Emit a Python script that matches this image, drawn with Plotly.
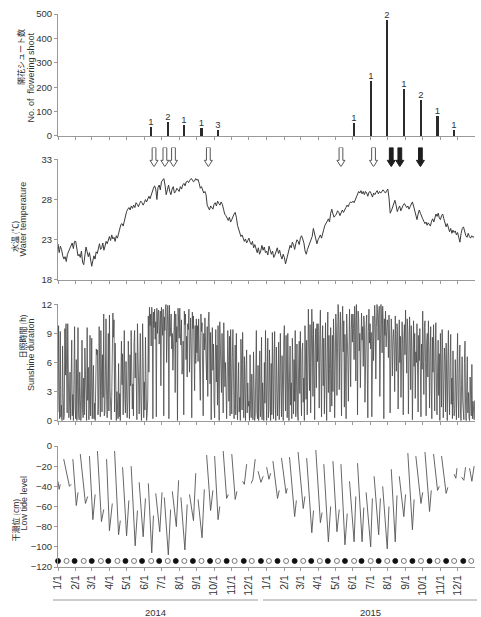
import plotly.graph_objects as go
import pandas as pd

# ---------------- DATA ----------------
bloom_dates = ["2014-06-13", "2014-07-12", "2014-08-10", "2014-09-09", "2014-10-08",
               "2015-06-03", "2015-07-02", "2015-07-31", "2015-08-29", "2015-09-28",
               "2015-10-27", "2015-11-25"]
bloom_counts = [37, 57, 45, 31, 26, 55, 226, 476, 193, 149, 82, 25]
bloom_labels = ["1", "2", "1", "1", "3", "1", "1", "2", "1", "2", "1", "1"]

open_arrow_dates = ["2014-06-18", "2014-07-07", "2014-07-22", "2014-09-21", "2015-05-11", "2015-07-07"]
filled_arrow_dates = ["2015-08-07", "2015-08-22", "2015-09-27"]

water_temp_2014 = [
    [22.5, 21.4, 22.2, 21.8, 21.0, 20.6, 20.9, 20.3, 21.2, 21.6, 22.0, 22.3, 22.6, 21.9, 22.8],
    [22.8, 21.5, 21.0, 21.2, 20.8, 21.6, 20.2, 19.9, 21.0, 22.1, 21.5, 20.9, 21.4, 20.2],
    [19.7, 20.4, 21.0, 20.6, 21.5, 21.3, 22.1, 22.5, 21.8, 22.0, 22.6, 21.7, 22.2, 22.8, 22.5, 23.0],
    [23.4, 22.9, 23.6, 23.1, 23.3, 22.8, 23.5, 23.2, 23.9, 24.6, 24.9, 25.0, 24.7, 25.3, 26.2],
    [26.5, 26.8, 27.0, 26.7, 27.2, 26.9, 27.3, 27.0, 27.6, 27.4, 27.1, 27.5, 27.8, 27.6, 27.3],
    [27.6, 28.0, 27.7, 28.2, 28.4, 28.1, 28.6, 29.0, 29.4, 29.7, 29.3, 28.0, 29.5, 29.8, 29.2],
    [30.2, 30.5, 30.6, 29.8, 28.6, 29.2, 29.8, 29.0, 28.6, 29.3, 29.6, 28.8, 29.0, 29.4, 29.2],
    [29.0, 29.6, 29.3, 29.8, 30.0, 29.7, 30.2, 30.3, 30.1, 30.4, 30.6, 30.5, 30.2, 30.3, 30.6],
    [30.4, 30.5, 30.0, 29.4, 29.6, 29.2, 28.8, 29.0, 28.6, 27.3, 26.9, 26.7, 27.2, 27.0, 26.8],
    [27.4, 27.6, 27.2, 27.8, 27.5, 27.3, 27.7, 27.4, 26.8, 26.2, 26.0, 25.6, 25.4, 25.8, 25.2],
    [25.5, 26.0, 26.2, 26.4, 25.8, 24.8, 24.2, 23.8, 23.4, 23.6, 23.0, 22.8, 23.1, 22.6, 22.9],
    [23.2, 22.7, 22.4, 22.8, 22.0, 22.4, 21.8, 21.4, 22.0, 21.2, 21.6, 22.3, 21.7, 22.1, 21.4],
]
water_temp_2015 = [
    [21.6, 21.1, 22.2, 21.7, 21.2, 21.6, 20.8, 21.1, 21.5, 22.0, 21.3, 21.7, 21.0, 20.6, 21.2],
    [20.8, 20.0, 20.6, 21.1, 21.5, 22.3, 22.0, 22.7, 22.4, 21.8, 22.5, 23.0, 22.8, 22.4],
    [23.2, 23.5, 23.1, 22.6, 21.6, 21.2, 21.8, 22.2, 22.6, 23.0, 23.4, 24.4, 23.6, 22.8, 22.5],
    [23.0, 23.4, 23.6, 23.2, 24.0, 24.3, 24.8, 25.0, 25.3, 25.6, 25.2, 26.3, 26.8, 26.2, 25.8],
    [26.0, 26.2, 26.6, 26.4, 26.0, 26.5, 26.7, 26.4, 26.8, 27.0, 27.3, 27.1, 27.5, 27.7, 27.6],
    [27.8, 27.6, 28.0, 28.3, 28.6, 29.0, 28.8, 29.1, 28.7, 29.0, 28.6, 29.0, 28.8, 28.4, 28.9],
    [29.0, 28.7, 28.3, 28.8, 28.6, 28.9, 29.1, 28.7, 29.0, 28.8, 29.0, 29.2, 29.0, 28.8, 29.1],
    [29.3, 28.2, 26.3, 26.6, 27.1, 27.6, 27.9, 27.3, 26.5, 26.9, 27.2, 26.6, 27.0, 27.3, 27.5],
    [27.3, 27.0, 27.2, 26.8, 27.1, 27.4, 27.7, 27.2, 26.6, 25.8, 25.5, 26.2, 26.7, 26.3, 25.8],
    [25.6, 25.3, 25.0, 25.2, 24.8, 25.1, 24.9, 24.7, 25.3, 25.6, 25.2, 25.8, 26.2, 25.9, 26.3, 25.7],
    [25.5, 26.0, 26.2, 25.6, 25.2, 24.6, 25.0, 24.3, 24.0, 24.4, 23.8, 24.2, 23.9, 24.1, 23.6],
    [23.9, 23.3, 22.7, 23.8, 24.4, 24.6, 24.0, 23.5, 23.3, 23.8, 23.4, 23.2, 23.5, 23.3, 23.4],
]

sunshine_2014 = [
    [0.9, 9.8, 3.1, 0.2, 9.2, 0.4, 1.6, 0.0, 7.7, 2.9, 0.1, 0.6, 9.5, 4.7, 10.0, 6.3, 0.8, 10.0, 1.2, 0.3, 1.8, 5.0, 0.1, 4.2, 8.3, 0.5, 2.7, 0.0, 3.8, 9.7, 1.4],
    [0.2, 6.3, 0.0, 3.5, 9.6, 0.8, 0.1, 5.0, 0.4, 0.0, 2.2, 8.3, 1.0, 0.3, 4.4, 0.6, 7.5, 3.2, 0.9, 0.0, 9.6, 2.1, 5.5, 0.1, 1.7, 8.8, 0.5, 3.0],
    [8.5, 0.2, 3.5, 5.7, 0.2, 1.8, 0.0, 4.6, 7.4, 6.8, 7.3, 0.6, 2.0, 9.7, 3.1, 0.4, 9.3, 6.0, 0.9, 6.8, 2.4, 11.0, 0.5, 0.8, 5.2, 10.5, 2.6, 0.3, 4.0, 9.0, 1.0],
    [10.9, 3.3, 0.7, 0.1, 2.5, 7.0, 11.1, 8.6, 10.4, 0.9, 8.0, 4.5, 0.0, 3.0, 1.2, 0.2, 5.9, 0.4, 2.8, 0.0, 4.4, 8.2, 3.7, 6.9, 0.6, 5.1, 9.3, 2.2, 0.8, 6.1],
    [3.0, 0.3, 1.9, 8.2, 5.4, 0.2, 6.8, 3.6, 9.3, 5.3, 1.2, 3.8, 0.5, 7.9, 9.3, 4.4, 7.0, 3.9, 0.1, 10.0, 6.2, 3.4, 0.7, 4.8, 9.0, 2.1, 0.0, 3.3, 10.0, 6.6, 0.3],
    [4.0, 1.1, 8.6, 3.2, 0.0, 0.7, 2.3, 10.8, 5.0, 11.7, 9.8, 11.0, 7.7, 11.7, 10.3, 0.2, 11.2, 9.6, 11.5, 8.4, 10.2, 0.4, 11.6, 9.0, 10.9, 11.4, 7.9, 9.5, 11.3, 3.6],
    [11.7, 10.1, 8.8, 11.5, 0.5, 10.7, 9.3, 11.8, 12.0, 6.0, 9.8, 11.9, 10.4, 0.2, 11.9, 8.7, 9.6, 11.0, 7.4, 9.0, 5.2, 7.5, 10.6, 11.3, 2.9, 11.0, 8.1, 9.7, 0.0, 11.6, 10.2],
    [8.5, 11.6, 9.1, 7.8, 10.4, 4.8, 5.5, 8.2, 0.6, 11.3, 9.9, 11.0, 6.3, 8.7, 4.5, 10.0, 9.4, 11.5, 5.0, 8.1, 10.6, 7.2, 0.3, 11.2, 9.5, 10.8, 7.7, 3.1, 9.8, 5.9, 10.5],
    [7.0, 9.8, 6.1, 10.5, 8.4, 5.6, 2.1, 11.0, 9.2, 10.1, 6.8, 0.5, 9.0, 7.3, 10.6, 8.0, 6.5, 4.2, 9.7, 2.5, 10.2, 11.2, 8.6, 3.8, 9.1, 0.1, 6.9, 9.6, 5.2, 7.9],
    [2.0, 0.3, 6.1, 9.4, 4.0, 7.8, 1.6, 9.8, 3.3, 0.0, 10.2, 8.1, 6.7, 2.9, 9.0, 5.4, 0.8, 10.1, 7.0, 3.5, 6.0, 1.0, 0.2, 4.3, 9.3, 6.2, 2.0, 8.7, 0.5, 9.4, 3.8],
    [0.7, 6.5, 9.4, 5.1, 0.2, 1.8, 7.8, 0.6, 9.0, 3.3, 0.1, 3.0, 6.0, 0.9, 2.4, 0.0, 8.4, 5.8, 1.1, 9.1, 4.0, 0.3, 6.6, 2.2, 0.0, 5.5, 7.3, 0.8, 3.9, 1.5],
    [2.0, 0.0, 6.8, 1.2, 0.3, 4.8, 2.0, 0.1, 7.1, 1.5, 0.0, 0.6, 3.4, 9.3, 0.9, 0.2, 5.7, 0.0, 2.6, 7.2, 0.4, 1.3, 8.6, 0.1, 3.9, 0.8, 0.0, 6.0, 1.8, 9.3, 0.2],
]
sunshine_2015 = [
    [0.0, 4.2, 8.5, 0.3, 1.1, 7.3, 2.8, 0.0, 5.9, 0.6, 9.1, 3.7, 0.2, 6.4, 9.2, 1.8, 0.0, 7.6, 4.3, 0.5, 2.9, 8.1, 0.1, 5.0, 9.0, 3.3, 0.4, 6.7, 1.2, 0.0, 8.4],
    [9.8, 4.5, 1.0, 8.8, 6.2, 0.3, 9.0, 2.4, 0.0, 4.5, 7.7, 1.6, 3.9, 0.2, 8.5, 5.2, 0.7, 6.3, 2.0, 9.3, 0.4, 3.6, 7.9, 1.1, 0.0, 5.6, 8.2, 2.8],
    [9.2, 3.0, 0.5, 7.1, 8.0, 1.9, 4.4, 0.0, 9.8, 6.6, 2.2, 8.3, 0.6, 5.0, 11.5, 7.4, 3.1, 9.9, 0.8, 6.0, 11.5, 8.9, 2.5, 10.2, 4.7, 0.1, 7.8, 9.5, 3.4, 10.0, 6.1],
    [10.0, 6.0, 1.3, 8.9, 11.4, 5.5, 0.4, 7.2, 9.8, 3.6, 8.5, 0.7, 6.3, 10.1, 4.2, 0.0, 7.0, 11.2, 2.9, 8.8, 5.4, 0.9, 9.6, 6.8, 1.5, 8.8, 3.0, 10.5, 7.7, 0.3],
    [4.8, 11.0, 9.3, 2.6, 7.5, 12.0, 10.4, 3.2, 8.6, 11.2, 6.0, 0.5, 9.7, 11.8, 7.1, 10.3, 1.4, 8.9, 5.0, 0.2, 11.0, 9.2, 6.4, 2.0, 10.6, 11.5, 7.8, 3.5, 9.4, 11.0, 8.1],
    [11.0, 9.5, 6.3, 11.8, 10.2, 4.1, 12.0, 9.8, 0.6, 11.3, 10.5, 7.2, 9.0, 3.4, 10.0, 11.1, 8.3, 9.7, 5.6, 10.8, 9.9, 1.9, 8.5, 9.7, 10.9, 6.8, 0.3, 9.2, 11.5, 8.0],
    [10.0, 7.4, 9.1, 0.4, 9.5, 10.8, 6.2, 8.7, 11.9, 10.1, 4.3, 9.6, 12.0, 11.2, 8.3, 10.7, 11.8, 2.5, 9.4, 12.0, 10.5, 7.0, 11.8, 9.9, 0.2, 10.5, 8.8, 11.3, 7.6, 9.2, 10.4],
    [9.8, 6.5, 10.9, 8.5, 0.8, 7.3, 10.5, 9.0, 4.6, 8.2, 9.4, 7.7, 3.0, 10.8, 8.8, 5.1, 10.0, 9.3, 1.2, 7.9, 10.4, 6.0, 8.7, 2.4, 9.6, 10.2, 7.5, 0.6, 8.3, 9.9, 6.8],
    [11.4, 8.0, 4.9, 10.5, 9.1, 0.7, 6.6, 10.7, 8.4, 3.2, 9.8, 7.4, 0.1, 8.5, 10.3, 5.6, 9.0, 2.3, 7.1, 6.0, 10.0, 4.4, 0.9, 8.8, 6.2, 9.5, 3.7, 0.4, 7.9, 5.3],
    [11.3, 8.4, 2.7, 9.6, 10.3, 6.0, 0.5, 8.1, 9.0, 4.5, 10.3, 7.2, 1.3, 6.8, 9.7, 3.4, 0.2, 8.6, 5.0, 9.9, 6.5, 1.0, 7.4, 10.1, 4.2, 0.6, 5.0, 8.3, 2.6, 6.9, 0.0],
    [9.0, 5.7, 1.4, 9.4, 7.0, 0.3, 3.8, 7.5, 6.1, 0.9, 8.0, 2.5, 0.0, 6.4, 9.3, 3.1, 0.6, 5.8, 8.9, 1.7, 4.4, 0.2, 7.2, 2.0, 0.5, 1.0, 6.3, 3.6, 0.1, 4.9],
    [9.0, 2.4, 0.3, 5.6, 7.8, 1.1, 0.0, 3.7, 6.6, 2.0, 0.4, 0.1, 5.9, 8.2, 1.5, 0.0, 3.3, 6.6, 0.8, 2.9, 0.3, 0.0, 4.5, 1.2, 0.5, 5.8, 0.2, 2.0, 0.6, 0.1, 2.1],
]

# low-tide level: segments separated by None
tide_dates = [
    "2014-01-01", "2014-01-03", "2014-01-05", None,
    "2014-01-11", "2014-01-19", "2014-01-21", "2014-01-24", None,
    "2014-01-27", "2014-02-02", "2014-02-05", None,
    "2014-02-09", "2014-02-18", "2014-02-22", None,
    "2014-02-25", "2014-03-03", "2014-03-07", None,
    "2014-03-11", "2014-03-18", "2014-03-22", None,
    "2014-03-27", "2014-04-01", "2014-04-06", None,
    "2014-04-10", "2014-04-17", "2014-04-20", None,
    "2014-04-24", "2014-05-01", "2014-05-05", None,
    "2014-05-09", "2014-05-16", "2014-05-20", None,
    "2014-05-23", "2014-05-30", "2014-06-03", None,
    "2014-06-08", "2014-06-14", "2014-06-17", None,
    "2014-06-21", "2014-06-28", "2014-07-02", None,
    "2014-07-06", "2014-07-13", "2014-07-17", None,
    "2014-07-20", "2014-07-27", "2014-07-31", None,
    "2014-08-04", "2014-08-11", "2014-08-15", None,
    "2014-08-19", "2014-08-26", "2014-08-30", None,
    "2014-09-03", "2014-09-10", "2014-09-14", None,
    "2014-09-18", "2014-09-25", "2014-09-29", None,
    "2014-10-02", "2014-10-08", "2014-10-11", None,
    "2014-10-17", "2014-10-23", "2014-10-26", None,
    "2014-11-01", "2014-11-07", "2014-11-10", None,
    "2014-11-20", "2014-11-23", "2014-11-27", None,
    "2014-12-05", "2014-12-08", "2014-12-12", None,
    "2014-12-17", "2014-12-22", "2014-12-26", None,
    "2015-01-01", "2015-01-05", "2015-01-08", None,
    "2015-01-12", "2015-01-20", "2015-01-23", None,
    "2015-01-27", "2015-02-04", "2015-02-06", None,
    "2015-02-10", "2015-02-19", "2015-02-22", None,
    "2015-02-25", "2015-03-06", "2015-03-09", None,
    "2015-03-12", "2015-03-21", "2015-03-24", None,
    "2015-03-28", "2015-04-05", "2015-04-08", None,
    "2015-04-11", "2015-04-19", "2015-04-23", None,
    "2015-04-27", "2015-05-04", "2015-05-08", None,
    "2015-05-11", "2015-05-18", "2015-05-22", None,
    "2015-05-26", "2015-06-03", "2015-06-06", None,
    "2015-06-09", "2015-06-17", "2015-06-20", None,
    "2015-06-24", "2015-07-02", "2015-07-05", None,
    "2015-07-08", "2015-07-16", "2015-07-19", None,
    "2015-07-23", "2015-07-31", "2015-08-03", None,
    "2015-08-07", "2015-08-14", "2015-08-17", None,
    "2015-08-21", "2015-08-29", "2015-09-01", None,
    "2015-09-05", "2015-09-13", "2015-09-16", None,
    "2015-09-19", "2015-09-28", "2015-10-01", None,
    "2015-10-05", "2015-10-13", "2015-10-16", None,
    "2015-10-20", "2015-10-27", "2015-10-30", None,
    "2015-11-03", "2015-11-11", "2015-11-14", None,
    "2015-11-25", "2015-11-28", "2015-11-30", None,
    "2015-12-08", "2015-12-12", "2015-12-15", None,
    "2015-12-22", "2015-12-26", "2015-12-30",
]
tide_levels = [
    -35, -43, -38, None,
    -13, -35, -40, -38, None,
    -13, -59, -46, None,
    -8, -57, -50, None,
    -10, -73, -48, None,
    -5, -75, -63, None,
    -13, -84, -57, None,
    -5, -88, -74, None,
    -21, -89, -54, None,
    -20, -99, -64, None,
    -36, -90, -52, None,
    -37, -106, -69, None,
    -47, -85, -46, None,
    -51, -108, -63, None,
    -45, -80, -34, None,
    -51, -103, -58, None,
    -48, -74, -27, None,
    -53, -91, -43, None,
    -9, -64, -44, None,
    -10, -73, -60, None,
    -5, -52, -48, None,
    -8, -53, -45, None,
    -35, -38, -18, None,
    -37, -33, -13, None,
    -25, -36, -30, None,
    -21, -33, -27, None,
    -15, -52, -44, None,
    -12, -47, -42, None,
    -11, -70, -54, None,
    -6, -62, -50, None,
    -12, -86, -64, None,
    -4, -76, -66, None,
    -18, -95, -60, None,
    -15, -85, -63, None,
    -18, -98, -67, None,
    -35, -95, -50, None,
    -17, -95, -61, None,
    -46, -100, -52, None,
    -30, -88, -52, None,
    -40, -102, -60, None,
    -23, -95, -49, None,
    -30, -70, -48, None,
    -7, -83, -53, None,
    -10, -57, -46, None,
    -6, -65, -44, None,
    -8, -44, -40, None,
    -10, -47, -41, None,
    -28, -32, -22, None,
    -31, -34, -21, None,
    -22, -35, -20,
]

new_moon_dates = ["2014-01-01", "2014-01-30", "2014-03-01", "2014-03-30", "2014-04-29", "2014-05-28",
                  "2014-06-27", "2014-07-26", "2014-08-25", "2014-09-24", "2014-10-23", "2014-11-22",
                  "2014-12-22", "2015-01-20", "2015-02-19", "2015-03-20", "2015-04-18", "2015-05-18",
                  "2015-06-16", "2015-07-16", "2015-08-14", "2015-09-13", "2015-10-13", "2015-11-11",
                  "2015-12-11"]
full_moon_dates = ["2014-01-16", "2014-02-15", "2014-03-17", "2014-04-15", "2014-05-14", "2014-06-13",
                   "2014-07-12", "2014-08-10", "2014-09-09", "2014-10-08", "2014-11-06", "2014-12-06",
                   "2015-01-05", "2015-02-04", "2015-03-06", "2015-04-04", "2015-05-04", "2015-06-03",
                   "2015-07-02", "2015-07-31", "2015-08-29", "2015-09-28", "2015-10-27", "2015-11-25",
                   "2015-12-25"]
moon_marker_level = -114

years = ["2014", "2015"]

# ---------------- HELPERS ----------------
def month_series(year, monthly_lists):
    xs, ys = [], []
    for m, vals in enumerate(monthly_lists, start=1):
        start = pd.Timestamp(year=year, month=m, day=1)
        nd = start.days_in_month
        n = len(vals)
        for i, v in enumerate(vals):
            xs.append(start + pd.Timedelta(days=i * nd / n))
            ys.append(v)
    return xs, ys


tx1, ty1 = month_series(2014, water_temp_2014)
tx2, ty2 = month_series(2015, water_temp_2015)
sx1, sy1 = month_series(2014, sunshine_2014)
sx2, sy2 = month_series(2015, sunshine_2015)

tide_x, last = [], None
for d in tide_dates:
    if d is None:
        tide_x.append(last)
    else:
        last = pd.Timestamp(d)
        tide_x.append(last)


def arrow_path(dates):
    xs, ys = [], []
    for d in dates:
        c = pd.Timestamp(d)
        s = pd.Timedelta(days=3.3)
        h = pd.Timedelta(days=7.0)
        pts = [(c - s, 1), (c + s, 1), (c + s, 0.33), (c + h, 0.33), (c, 0),
               (c - h, 0.33), (c - s, 0.33), (c - s, 1)]
        for px, py in pts:
            xs.append(px)
            ys.append(py)
        xs.append(None)
        ys.append(None)
    return xs, ys


LINE = "#3a3a3a"
AX = "#9a9a9a"
TXT = "#333333"
FONT = "Liberation Sans, Arial, sans-serif"
JFONT = "Noto Sans CJK JP"

fig = go.Figure()

# panel 1: bars
fig.add_trace(go.Bar(x=pd.to_datetime(bloom_dates), y=bloom_counts, text=bloom_labels,
                     textposition="outside", constraintext="none", cliponaxis=False,
                     textfont=dict(size=9.5, color=TXT, family=FONT),
                     outsidetextfont=dict(size=9.5, color=TXT, family=FONT),
                     width=4 * 86400000, marker=dict(color="#2b2b2b", line=dict(width=0)),
                     xaxis="x", yaxis="y", showlegend=False))

# panel 2: water temperature
fig.add_trace(go.Scatter(x=tx1 + tx2, y=ty1 + ty2, mode="lines",
                         line=dict(color=LINE, width=1), xaxis="x2", yaxis="y2", showlegend=False))

# arrows
ax_o, ay_o = arrow_path(open_arrow_dates)
fig.add_trace(go.Scatter(x=ax_o, y=ay_o, mode="lines", fill="toself", fillcolor="white",
                         line=dict(color="#555555", width=1), xaxis="x2", yaxis="y5", showlegend=False))
ax_f, ay_f = arrow_path(filled_arrow_dates)
fig.add_trace(go.Scatter(x=ax_f, y=ay_f, mode="lines", fill="toself", fillcolor="#1e1e1e",
                         line=dict(color="#1e1e1e", width=1), xaxis="x2", yaxis="y5", showlegend=False))

# panel 3: sunshine
fig.add_trace(go.Scatter(x=sx1 + sx2, y=sy1 + sy2, mode="lines",
                         line=dict(color="#4a4a4a", width=0.8), xaxis="x3", yaxis="y3", showlegend=False))

# panel 4: tide
fig.add_trace(go.Scatter(x=tide_x, y=tide_levels, mode="lines", connectgaps=False,
                         line=dict(color="#555555", width=0.9), xaxis="x4", yaxis="y4", showlegend=False))
fig.add_trace(go.Scatter(x=pd.to_datetime(new_moon_dates), y=[moon_marker_level] * len(new_moon_dates),
                         mode="markers", marker=dict(symbol="circle", size=5, color="#111111",
                                                     line=dict(color="#111111", width=0.8)),
                         cliponaxis=False, xaxis="x4", yaxis="y4", showlegend=False))
fig.add_trace(go.Scatter(x=pd.to_datetime(full_moon_dates), y=[moon_marker_level] * len(full_moon_dates),
                         mode="markers", marker=dict(symbol="circle-open", size=5, color="#555555",
                                                     line=dict(width=0.8)),
                         cliponaxis=False, xaxis="x4", yaxis="y4", showlegend=False))

# ---------------- LAYOUT ----------------
xcommon = dict(type="date", range=["2014-01-01", "2015-12-31 12:00"], dtick="M1", tick0="2014-01-01",
               ticks="outside", ticklen=3, tickcolor=AX, tickwidth=1, showline=True, linecolor=AX,
               linewidth=1, showgrid=False, zeroline=False, fixedrange=True)
ycommon = dict(ticks="outside", ticklen=3, tickcolor=AX, showline=True, linecolor=AX, linewidth=1,
               showgrid=False, zeroline=False, tickfont=dict(size=9.5, color=TXT, family=FONT))

D1 = [0.7794, 1.0]
D2 = [0.5190, 0.7373]
D3 = [0.2646, 0.4750]
D4 = [0.0, 0.2188]
D5 = [0.7239, 0.7586]

fig.update_layout(
    width=481, height=617,
    margin=dict(l=58, r=6, t=14, b=50),
    paper_bgcolor="white", plot_bgcolor="white",
    font=dict(family=FONT, color=TXT),
    bargap=0,
    xaxis=dict(xcommon, anchor="y", showticklabels=False),
    xaxis2=dict(xcommon, anchor="y2", matches="x", showticklabels=False),
    xaxis3=dict(xcommon, anchor="y3", matches="x", showticklabels=False),
    xaxis4=dict(xcommon, anchor="y4", matches="x", showticklabels=True, tickformat="%-m/%-d",
                tickangle=-90, tickfont=dict(size=10.5, color=TXT, family=FONT)),
    yaxis=dict(ycommon, domain=D1, anchor="x", range=[0, 500], tickvals=[0, 100, 200, 300, 400, 500]),
    yaxis2=dict(ycommon, domain=D2, anchor="x2", range=[18, 33], tickvals=[18, 23, 28, 33]),
    yaxis3=dict(ycommon, domain=D3, anchor="x3", range=[0, 12], tickvals=[0, 3, 6, 9, 12]),
    yaxis4=dict(ycommon, domain=D4, anchor="x4", range=[-120, 0],
                tickvals=[0, -20, -40, -60, -80, -100, -120]),
    yaxis5=dict(domain=D5, anchor="x2", range=[0, 1], visible=False, fixedrange=True),
)

PW = 481 - 58 - 6
PH = 617 - 14 - 50


def px_to_paper_x(px):
    return (px - 58) / PW


def py_to_paper_y(py):
    return (617 - 50 - py) / PH


# (japanese text, english text, jp x, jp y-center, en x, en y-center) in pixels
titles = [
    ("開花シュート数", "No. of  flowering shoot", 20.0, 57, 30.5, 77),
    ("水温 (℃)", "Water temperature", 14.0, 237, 22.5, 219),
    ("日照時間 (h)", "Sunshine duration", 21.5, 337, 31.0, 355),
    ("干潮位 (cm)", "Low tide level", 14.5, 520, 23.5, 503),
]
for jp, en, xj, yj, xe, ye in titles:
    fig.add_annotation(text=jp, x=px_to_paper_x(xj), y=py_to_paper_y(yj), xref="paper", yref="paper",
                       textangle=-90, showarrow=False, xanchor="center", yanchor="middle",
                       font=dict(family=JFONT, size=8, color="#222222"))
    fig.add_annotation(text=en, x=px_to_paper_x(xe), y=py_to_paper_y(ye), xref="paper", yref="paper",
                       textangle=-90, showarrow=False, xanchor="center", yanchor="middle",
                       font=dict(family=FONT, size=9, color=TXT))

# year grouping lines and labels
year_spans = [(53, 258), (263, 477)]
for yr, (a, b) in zip(years, year_spans):
    fig.add_shape(type="line", xref="paper", yref="paper",
                  x0=px_to_paper_x(a), x1=px_to_paper_x(b), y0=py_to_paper_y(600), y1=py_to_paper_y(600),
                  line=dict(color=AX, width=1))
    fig.add_annotation(text=yr, x=px_to_paper_x((a + b) / 2), y=py_to_paper_y(612), xref="paper", yref="paper",
                       showarrow=False, xanchor="center", yanchor="middle",
                       font=dict(family=FONT, size=9.5, color=TXT))

fig.write_html("out.html")
